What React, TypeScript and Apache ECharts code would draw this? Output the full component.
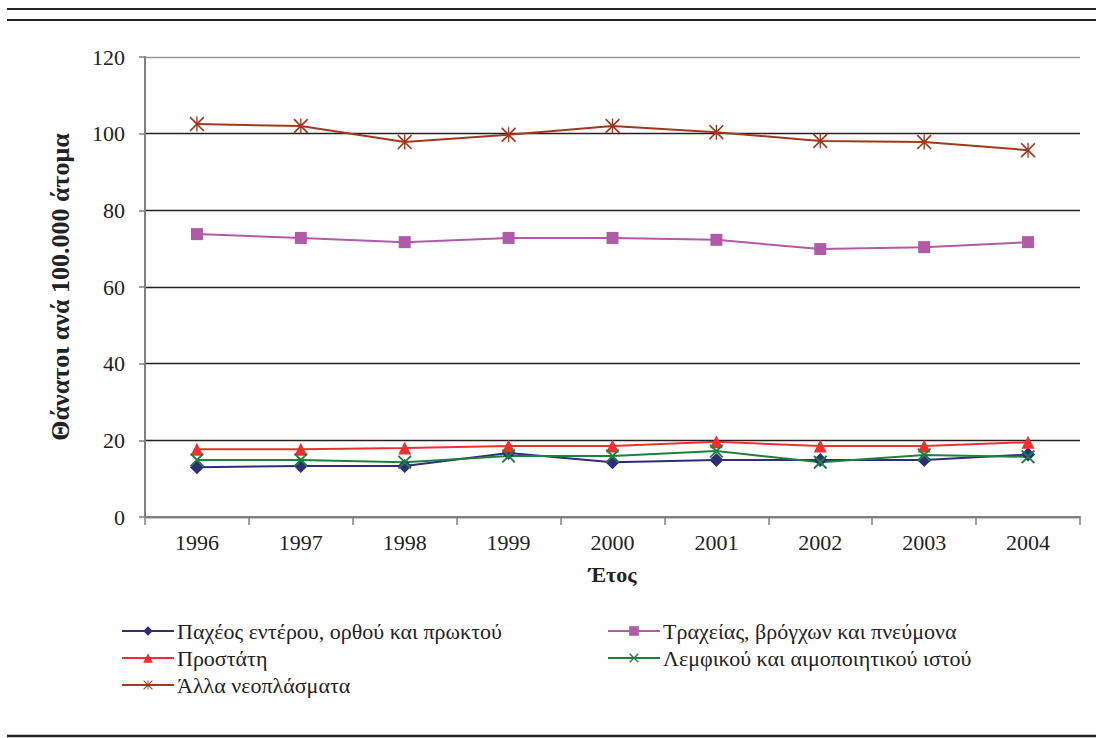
import React, { useEffect, useRef } from "react";
import * as echarts from "echarts";

const years = ["1996", "1997", "1998", "1999", "2000", "2001", "2002", "2003", "2004"];
const colon = [13.0, 13.3, 13.3, 16.7, 14.3, 14.9, 14.9, 14.9, 16.3];
const lung = [73.8, 72.8, 71.7, 72.8, 72.8, 72.3, 69.9, 70.4, 71.7];
const prostate = [17.7, 17.7, 18.0, 18.5, 18.5, 19.6, 18.5, 18.5, 19.5];
const lymph = [14.9, 14.9, 14.3, 15.9, 15.9, 17.2, 14.3, 16.2, 15.7];
const other = [102.5, 102.0, 97.8, 99.7, 102.0, 100.4, 98.1, 97.8, 95.7];

const names = [
  "Παχέος εντέρου, ορθού και πρωκτού",
  "Τραχείας, βρόγχων και πνεύμονα",
  "Προστάτη",
  "Λεμφικού και αιμοποιητικού ιστού",
  "Άλλα νεοπλάσματα",
];

const xPath =
  "path://M0,2L2,0L20,18L18,20Z M2,20L0,18L18,0L20,2Z";
const starPath =
  "path://M0,1.6L1.6,0L20,18.4L18.4,20Z M1.6,20L0,18.4L18.4,0L20,1.6Z M9.1,0L10.9,0L10.9,20L9.1,20Z";

const FONT = "Liberation Serif";

export default function App() {
  const ref = useRef<HTMLDivElement>(null);
  useEffect(() => {
    const chart = echarts.init(ref.current!, null, { renderer: "svg" });
    const mk = (name: string, data: number[], color: string, symbol: string, size: number) => ({
      name,
      type: "line",
      data,
      symbol,
      symbolSize: size,
      lineStyle: { color, width: 2 },
      itemStyle: { color },
      z: 3,
    });
    const legendText = { color: "#222", fontSize: 22, fontFamily: FONT, padding: [0, 0, 0, -2] };
    chart.setOption({
      animation: false,
      backgroundColor: "#fff",
      textStyle: { fontFamily: FONT },
      grid: { left: 145, right: 16, top: 57, bottom: 221 },
      xAxis: {
        type: "category",
        data: years,
        boundaryGap: true,
        axisLine: { lineStyle: { color: "#808080", width: 2 } },
        axisTick: { show: true, length: 8, lineStyle: { color: "#808080", width: 1.5 } },
        axisLabel: { color: "#222", fontSize: 22, fontFamily: FONT, margin: 14 },
        name: "Έτος",
        nameLocation: "middle",
        nameGap: 46,
        nameTextStyle: { color: "#222", fontSize: 22, fontWeight: "bold", fontFamily: FONT },
      },
      yAxis: {
        type: "value",
        min: 0,
        max: 120,
        interval: 20,
        axisLine: { show: true, lineStyle: { color: "#808080", width: 2 } },
        axisTick: { show: true, length: 6, lineStyle: { color: "#808080", width: 1.5 } },
        axisLabel: { color: "#222", fontSize: 22, fontFamily: FONT, margin: 20 },
        splitLine: {
          show: true,
          lineStyle: { color: ["#222", "#222", "#222", "#222", "#222", "#222", "#9a9a9a"], width: 1.3 },
        },
        name: "Θάνατοι ανά 100.000 άτομα",
        nameLocation: "middle",
        nameRotate: 90,
        nameGap: 72,
        nameTextStyle: { color: "#222", fontSize: 26, fontWeight: "bold", fontFamily: FONT },
      },
      legend: [
        {
          data: [names[0], names[2], names[4]],
          orient: "vertical",
          left: 116,
          top: 615,
          itemWidth: 52,
          itemHeight: 12,
          itemGap: 5,
          textStyle: legendText,
        },
        {
          data: [names[1], names[3]],
          orient: "vertical",
          left: 602,
          top: 615,
          itemWidth: 52,
          itemHeight: 12,
          itemGap: 5,
          textStyle: legendText,
        },
      ],
      graphic: [
        { type: "line", shape: { x1: 7, y1: 9, x2: 1096, y2: 9 }, style: { stroke: "#222", lineWidth: 2 } },
        { type: "line", shape: { x1: 7, y1: 20, x2: 1096, y2: 20 }, style: { stroke: "#222", lineWidth: 2 } },
        { type: "line", shape: { x1: 7, y1: 736, x2: 1096, y2: 736 }, style: { stroke: "#222", lineWidth: 2.5 } },
      ],
      series: [
        mk(names[0], colon, "#2f2c78", "diamond", 14),
        mk(names[1], lung, "#b05aa8", "rect", 12),
        mk(names[2], prostate, "#ee3030", "triangle", 13),
        mk(names[3], lymph, "#1e8040", xPath, 14),
        mk(names[4], other, "#a0391f", starPath, 15),
      ],
    });
    return () => chart.dispose();
  }, []);
  return (
    <div
      ref={ref}
      style={{ position: "absolute", left: 0, top: 0, width: 1096, height: 738 }}
    />
  );
}
